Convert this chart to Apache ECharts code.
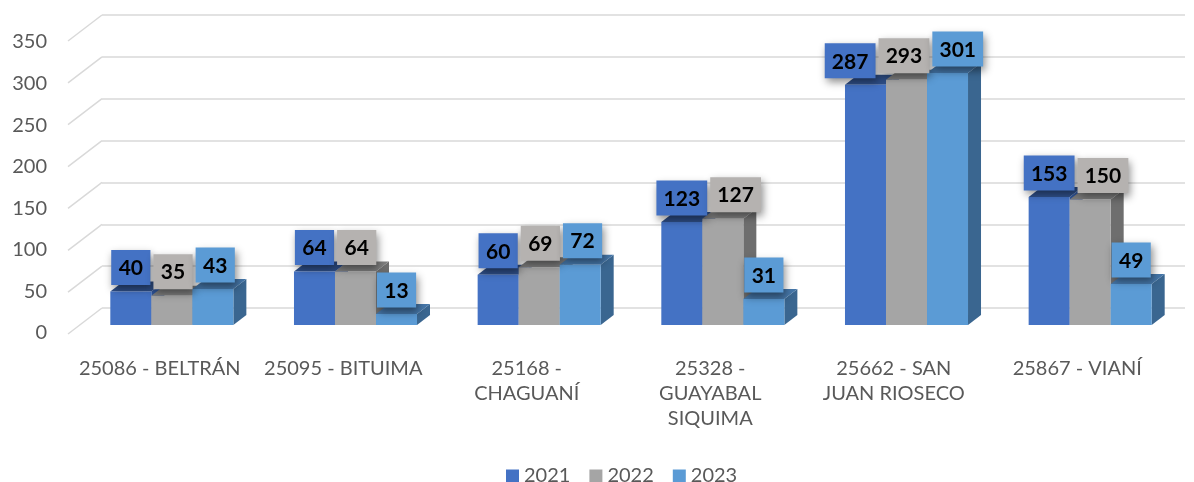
<!DOCTYPE html>
<html lang="es">
<head>
    <meta charset="UTF-8">
    <title>Municipios 2021-2023</title>
    <script src="https://cdn.jsdelivr.net/npm/echarts@6.0.0/dist/echarts.min.js"></script>
    <style>
        body { margin: 0; background: #fff; }
        #chart { width: 1194px; height: 482px; }
    </style>
</head>
<body>
<div id="chart"></div>
<script>
const categories = ['25086 - BELTRÁN', '25095 - BITUIMA', '25168 -\nCHAGUANÍ', '25328 -\nGUAYABAL\nSIQUIMA', '25662 - SAN\nJUAN RIOSECO', '25867 - VIANÍ'];
const years = ['2021', '2022', '2023'];
const values2021 = [40, 64, 60, 123, 287, 153];
const values2022 = [35, 64, 69, 127, 293, 150];
const values2023 = [43, 13, 72, 31, 301, 49];
const yTicks = [0, 50, 100, 150, 200, 250, 300, 350];

// colores: frente, techo, lado, caja de etiqueta
const palette = [
    { front: '#4472C4', top: '#2F4F88', side: '#30559A', box: '#4472C4' },
    { front: '#A5A5A5', top: '#7E7E7E', side: '#6E6E6E', box: '#B5B2B0' },
    { front: '#5B9BD5', top: '#4576A8', side: '#3A6690', box: '#5B9BD5' }
];
const DX = 13, DY = -10;
const FONT = 'Lato, "Open Sans", sans-serif';

function barSeries(name, values, k) {
    const c = palette[k];
    return {
        name: name,
        type: 'custom',
        xAxisIndex: 0,
        yAxisIndex: 0,
        itemStyle: { color: c.front },
        data: values.map((v, i) => [i, v]),
        encode: { x: 0, y: 1 },
        renderItem: function (params, api) {
            const base = api.coord([api.value(0), 0]);
            const top = api.coord([api.value(0), api.value(1)]);
            const w = api.size([1, 0])[0] * 0.2233;
            const x0 = base[0] + (k - 1.5) * w;
            const x1 = x0 + w;
            const yt = top[1], yb = base[1];
            return {
                type: 'group',
                children: [
                    { type: 'polygon', shape: { points: [[x1, yt], [x1 + DX, yt + DY], [x1 + DX, yb + DY], [x1, yb]] }, style: { fill: c.side } },
                    { type: 'polygon', shape: { points: [[x0, yt], [x1, yt], [x1 + DX, yt + DY], [x0 + DX, yt + DY]] }, style: { fill: c.top } },
                    { type: 'rect', shape: { x: x0, y: yt, width: w, height: yb - yt }, style: { fill: c.front } }
                ]
            };
        }
    };
}

const labelSeries = {
    name: 'etiquetas',
    type: 'custom',
    xAxisIndex: 0,
    yAxisIndex: 0,
    z: 10,
    data: values2021.map((v, i) => [i, v, values2022[i], values2023[i]]),
    encode: { x: 0, y: [1, 2, 3] },
    renderItem: function (params, api) {
        const i = api.value(0);
        const w = api.size([1, 0])[0] * 0.2233;
        const center = api.coord([i, 0])[0];
        const boxes = [];
        for (let k = 0; k < 3; k++) {
            const v = api.value(k + 1);
            const bw = String(v).length * 11.6 + 16;
            const cy = api.coord([i, v])[1] - 24;
            let cx = center + (k - 1) * w;
            if (k > 0) {
                const prev = boxes[k - 1];
                // solo empujar si las cajas se tocan también en vertical
                if (Math.abs(prev.cy - cy) < 35) {
                    const minCx = prev.cx + prev.bw / 2 + 3 + bw / 2;
                    if (cx < minCx) cx = minCx;
                }
            }
            boxes.push({ cx: cx, bw: bw, v: v, cy: cy });
        }
        // si el grupo quedó desplazado a la derecha, recentrarlo un poco
        const shift = boxes[2].cx - (center + w);
        if (shift > 20 && boxes[1].cx > center + 10) {
            const back = shift * 0.6;
            boxes.forEach(b => { b.cx -= back; });
        }
        const children = [];
        boxes.forEach((b, k) => {
            children.push({
                type: 'rect',
                shape: { x: b.cx - b.bw / 2, y: b.cy - 17.5, width: b.bw, height: 35 },
                style: { fill: palette[k].box, shadowColor: 'rgba(0,0,0,0.45)', shadowBlur: 8, shadowOffsetX: 2, shadowOffsetY: 4 }
            });
            children.push({
                type: 'text',
                x: b.cx, y: b.cy + 1,
                style: { text: String(b.v), fill: '#000', font: 'bold 21px ' + FONT, align: 'center', verticalAlign: 'middle' }
            });
        });
        return { type: 'group', children: children };
    }
};

// líneas diagonales del piso / pared izquierda
const wallSeries = {
    name: 'pared',
    type: 'custom',
    xAxisIndex: 1,
    yAxisIndex: 1,
    silent: true,
    z: 0,
    data: yTicks.map(t => [0, t]),
    encode: { x: 0, y: 1 },
    renderItem: function (params, api) {
        const p = api.coord([0, api.value(1)]);
        return {
            type: 'line',
            shape: { x1: p[0], y1: p[1], x2: p[0] - 34, y2: p[1] + 26 },
            style: { stroke: '#D9D9D9', lineWidth: 1.5 }
        };
    }
};

const chart = echarts.init(document.getElementById('chart'));
chart.setOption({
    animation: false,
    grid: [
        { left: 80, right: 12, top: 32, bottom: 157 },
        { left: 102, right: 9, top: 15, bottom: 174 },
        { left: 68, right: 25, top: 42, bottom: 149 }
    ],
    xAxis: [
        { gridIndex: 0, type: 'category', data: categories, show: false },
        { gridIndex: 1, type: 'value', min: 0, max: 1, show: false },
        {
            gridIndex: 2, type: 'category', data: categories,
            axisLine: { show: false }, axisTick: { show: false },
            axisLabel: { interval: 0, margin: 23, color: '#595959', fontFamily: FONT, fontSize: 20, lineHeight: 25 }
        }
    ],
    yAxis: [
        { gridIndex: 0, type: 'value', min: 0, max: 350, show: false },
        {
            gridIndex: 1, type: 'value', min: 0, max: 350, interval: 50,
            axisLine: { show: false }, axisTick: { show: false }, axisLabel: { show: false },
            splitLine: { lineStyle: { color: '#D9D9D9', width: 1.5 } }
        },
        {
            gridIndex: 2, type: 'value', min: 0, max: 350, interval: 50,
            axisLine: { show: false }, axisTick: { show: false }, splitLine: { show: false },
            axisLabel: { margin: 21, color: '#595959', fontFamily: FONT, fontSize: 20 }
        }
    ],
    legend: {
        data: years,
        left: 501,
        top: 461,
        icon: 'rect',
        itemWidth: 13,
        itemHeight: 13,
        itemGap: 19,
        textStyle: { color: '#595959', fontFamily: FONT, fontSize: 20 }
    },
    series: [
        wallSeries,
        barSeries('2021', values2021, 0),
        barSeries('2022', values2022, 1),
        barSeries('2023', values2023, 2),
        labelSeries
    ]
});
</script>
</body>
</html>
